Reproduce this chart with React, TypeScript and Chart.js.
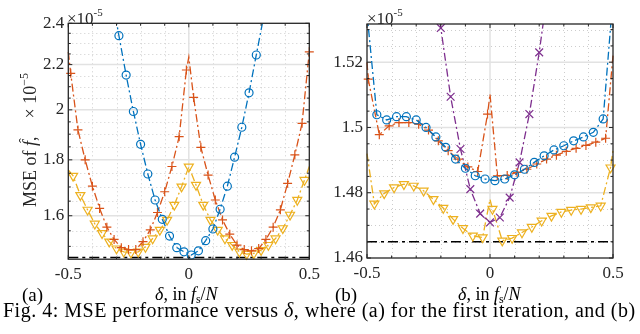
import React, { useEffect, useRef } from 'react';
import { Chart, registerables } from 'chart.js';

Chart.register(...registerables);

const FONT = "'Liberation Serif', 'Times New Roman', Times, serif";
const AX = '#262626';
const BLUE = '#0072BD';
const ORANGE = '#D95319';
const YELLOW = '#EDB120';
const PURPLE = '#7E2F8E';

// shared x axis
const xTicks = [-0.5, 0, 0.5];
const xTickLabels = ['-0.5', '0', '0.5'];
const xMinor = [-0.4, -0.3, -0.2, -0.1, 0.1, 0.2, 0.3, 0.4];
const crbLevel = 1.465;

// panel (a)
const aYMin = 1.46;
const aYMax = 2.4;
const aYTicks = [1.6, 1.8, 2.0, 2.2, 2.4];
const aYTickLabels = ['1.6', '1.8', '2', '2.2', '2.4'];
const aYMinor = [1.5, 1.55, 1.65, 1.7, 1.75, 1.85, 1.9, 1.95, 2.05, 2.1, 2.15, 2.25, 2.3, 2.35];

const aBlueX = [-0.35, -0.32, -0.29, -0.26, -0.23, -0.2, -0.17, -0.14, -0.11, -0.08, -0.05, -0.02, 0.01, 0.04, 0.07, 0.1, 0.13, 0.16, 0.19, 0.22, 0.25, 0.28, 0.31, 0.34];
const aBlueY = [2.78, 2.55, 2.338, 2.152, 1.993, 1.86, 1.747, 1.654, 1.588, 1.533, 1.496, 1.483, 1.473, 1.486, 1.518, 1.556, 1.622, 1.703, 1.81, 1.928, 2.073, 2.245, 2.43, 2.65];
const aBlueNoMark: number[] = [];

const aOrangeX = [-0.5, -0.49, -0.46, -0.43, -0.4, -0.37, -0.34, -0.31, -0.28, -0.25, -0.22, -0.19, -0.16, -0.13, -0.1, -0.07, -0.04, -0.01, 0, 0.02, 0.05, 0.08, 0.11, 0.14, 0.17, 0.2, 0.23, 0.26, 0.29, 0.32, 0.35, 0.38, 0.41, 0.44, 0.47, 0.5];
const aOrangeY = [2.26, 2.16, 1.917, 1.8, 1.703, 1.625, 1.562, 1.522, 1.496, 1.49, 1.49, 1.515, 1.553, 1.611, 1.683, 1.775, 1.89, 2.175, 2.235, 2.053, 1.848, 1.743, 1.654, 1.586, 1.539, 1.504, 1.49, 1.486, 1.493, 1.522, 1.562, 1.62, 1.713, 1.819, 1.944, 2.26];
const aOrangeNoMark = [-0.5, 0];

const aYellowX = [-0.5, -0.48, -0.45, -0.42, -0.39, -0.36, -0.33, -0.3, -0.27, -0.24, -0.21, -0.18, -0.15, -0.12, -0.09, -0.06, -0.03, 0, 0.03, 0.06, 0.09, 0.12, 0.15, 0.18, 0.21, 0.24, 0.27, 0.3, 0.33, 0.36, 0.39, 0.42, 0.45, 0.48, 0.5];
const aYellowY = [1.762, 1.74, 1.671, 1.62, 1.573, 1.542, 1.515, 1.493, 1.483, 1.48, 1.483, 1.498, 1.525, 1.553, 1.586, 1.637, 1.701, 1.774, 1.707, 1.637, 1.586, 1.553, 1.525, 1.504, 1.483, 1.476, 1.478, 1.488, 1.504, 1.525, 1.558, 1.603, 1.654, 1.725, 1.775];
const aYellowNoMark = [-0.5, 0.5];

// panel (b)
const bYMin = 1.46;
const bYMax = 1.5317;
const bYTicks = [1.46, 1.48, 1.5, 1.52];
const bYTickLabels = ['1.46', '1.48', '1.5', '1.52'];
const bYMinor = [1.465, 1.47, 1.475, 1.485, 1.49, 1.495, 1.505, 1.51, 1.515, 1.525, 1.53];

const bBlueX = [-0.5, -0.46, -0.42, -0.38, -0.34, -0.3, -0.26, -0.22, -0.18, -0.14, -0.1, -0.06, -0.02, 0.02, 0.06, 0.1, 0.14, 0.18, 0.22, 0.26, 0.3, 0.34, 0.38, 0.42, 0.46, 0.5];
const bBlueY = [1.535, 1.5039, 1.5023, 1.5033, 1.5033, 1.5023, 1.5, 1.4971, 1.4939, 1.4903, 1.4875, 1.4852, 1.4842, 1.4837, 1.4842, 1.4855, 1.4872, 1.4893, 1.4913, 1.4931, 1.4944, 1.4959, 1.4971, 1.4985, 1.5026, 1.54];
const bBlueNoMark = [-0.5, 0.5];

const bOrangeX = [-0.5, -0.495, -0.45, -0.41, -0.37, -0.33, -0.29, -0.25, -0.21, -0.17, -0.13, -0.09, -0.05, -0.01, 0, 0.03, 0.07, 0.11, 0.15, 0.19, 0.23, 0.27, 0.31, 0.35, 0.39, 0.43, 0.47, 0.5];
const bOrangeY = [1.52, 1.5148, 1.4978, 1.5005, 1.5015, 1.5015, 1.501, 1.4992, 1.4959, 1.4929, 1.4903, 1.4879, 1.4865, 1.5041, 1.5102, 1.4852, 1.4853, 1.4862, 1.4872, 1.4888, 1.4903, 1.4915, 1.4927, 1.4936, 1.4945, 1.4955, 1.4967, 1.522];
const bOrangeNoMark = [-0.5, 0, 0.5];

const bPurpleX = [-0.24, -0.2, -0.16, -0.12, -0.08, -0.04, 0, 0.04, 0.08, 0.12, 0.16, 0.2, 0.24];
const bPurpleY = [1.552, 1.5305, 1.5094, 1.4934, 1.4811, 1.4736, 1.4709, 1.4724, 1.4785, 1.4893, 1.5041, 1.523, 1.545];
const bPurpleNoMark: number[] = [];

const bYellowX = [-0.5, -0.47, -0.43, -0.39, -0.35, -0.31, -0.27, -0.23, -0.19, -0.15, -0.11, -0.07, -0.03, 0, 0.01, 0.05, 0.09, 0.13, 0.17, 0.21, 0.25, 0.29, 0.33, 0.37, 0.41, 0.45, 0.49, 0.5];
const bYellowY = [1.492, 1.4766, 1.4798, 1.4816, 1.4826, 1.4821, 1.4806, 1.478, 1.4753, 1.4719, 1.4691, 1.4668, 1.4663, 1.478, 1.475, 1.4653, 1.4661, 1.4678, 1.4695, 1.4714, 1.4729, 1.4741, 1.4747, 1.475, 1.4755, 1.476, 1.4877, 1.493];
const bYellowNoMark = [-0.5, 0, 0.5];

const DASHDOT = [8, 3, 2, 3];

function series(xs: number[], ys: number[], noMark: number[], color: string, style: string, radius: number, rotation = 0) {
  return {
    data: xs.map((x, i) => ({ x, y: ys[i] })),
    borderColor: color,
    borderWidth: 1.3,
    borderDash: DASHDOT,
    pointStyle: style,
    pointRadius: xs.map((x) => (noMark.includes(x) ? 0 : radius)),
    pointHoverRadius: 0,
    pointRotation: rotation,
    pointBorderColor: color,
    pointBackgroundColor: 'rgba(0,0,0,0)',
    pointBorderWidth: 1.2,
    fill: false,
    tension: 0,
    clip: { left: 8, right: 8, top: 0, bottom: 8 },
  };
}

function crb() {
  return {
    data: [{ x: -0.5, y: crbLevel }, { x: 0.5, y: crbLevel }],
    borderColor: '#000000',
    borderWidth: 1.5,
    borderDash: [10, 4, 3, 4],
    pointRadius: 0,
    pointHoverRadius: 0,
    fill: false,
    clip: { left: 0, right: 0, top: 0, bottom: 4 },
  };
}

function seg(ctx: CanvasRenderingContext2D, x1: number, y1: number, x2: number, y2: number) {
  ctx.beginPath();
  ctx.moveTo(x1, y1);
  ctx.lineTo(x2, y2);
  ctx.stroke();
}

function axesPlugin(cfg: { yTicks: number[]; yMinor: number[]; yGrid: number[] }) {
  return {
    id: 'matlabAxes',
    beforeDatasetsDraw(chart: any) {
      const { ctx, chartArea: a } = chart;
      const sx = chart.scales.x;
      const sy = chart.scales.y;
      ctx.save();
      ctx.lineWidth = 1;
      ctx.strokeStyle = '#cdcdcd';
      ctx.setLineDash([1, 3]);
      for (const v of xMinor) {
        const p = Math.round(sx.getPixelForValue(v)) + 0.5;
        seg(ctx, p, a.top, p, a.bottom);
      }
      for (const v of cfg.yMinor) {
        const p = Math.round(sy.getPixelForValue(v)) + 0.5;
        seg(ctx, a.left, p, a.right, p);
      }
      ctx.setLineDash([]);
      ctx.strokeStyle = '#e2e2e2';
      ctx.lineWidth = 1.5;
      const p0 = sx.getPixelForValue(0);
      seg(ctx, p0, a.top, p0, a.bottom);
      for (const v of cfg.yGrid) {
        const p = sy.getPixelForValue(v);
        seg(ctx, a.left, p, a.right, p);
      }
      ctx.restore();
    },
    afterDatasetsDraw(chart: any) {
      const { ctx, chartArea: a } = chart;
      const sx = chart.scales.x;
      const sy = chart.scales.y;
      ctx.save();
      ctx.strokeStyle = AX;
      ctx.lineWidth = 1;
      const tick = (v: number, len: number, horiz: boolean) => {
        if (horiz) {
          const p = sx.getPixelForValue(v);
          seg(ctx, p, a.bottom, p, a.bottom - len);
          seg(ctx, p, a.top, p, a.top + len);
        } else {
          const p = sy.getPixelForValue(v);
          seg(ctx, a.left, p, a.left + len, p);
          seg(ctx, a.right, p, a.right - len, p);
        }
      };
      xTicks.forEach((v) => tick(v, 4, true));
      xMinor.forEach((v) => tick(v, 2.5, true));
      cfg.yTicks.forEach((v) => tick(v, 4, false));
      cfg.yMinor.forEach((v) => tick(v, 2.5, false));
      ctx.lineWidth = 1.3;
      ctx.strokeRect(a.left, a.top, a.right - a.left, a.bottom - a.top);
      ctx.restore();
    },
  };
}

function makeConfig(opts: {
  datasets: any[];
  yType: string;
  yMin: number;
  yMax: number;
  yTicks: number[];
  yTickLabels: string[];
  yMinor: number[];
  yGrid: number[];
  yAxisWidth: number;
  padding: { left: number; right: number; top: number; bottom: number };
}) {
  const tickFont = { family: FONT, size: 17 };
  return {
    type: 'line' as const,
    data: { datasets: opts.datasets },
    plugins: [axesPlugin({ yTicks: opts.yTicks, yMinor: opts.yMinor, yGrid: opts.yGrid })],
    options: {
      responsive: false,
      animation: false as const,
      devicePixelRatio: 1,
      events: [],
      layout: { padding: opts.padding },
      plugins: { legend: { display: false }, tooltip: { enabled: false } },
      scales: {
        x: {
          type: 'linear' as const,
          min: -0.5,
          max: 0.5,
          afterBuildTicks: (s: any) => {
            s.ticks = xTicks.map((v) => ({ value: v }));
          },
          afterFit: (s: any) => {
            s.height = 30;
          },
          grid: { display: false, drawTicks: false },
          border: { display: false },
          ticks: {
            callback: (_v: any, i: number) => xTickLabels[i],
            font: tickFont,
            color: AX,
            padding: 5,
            maxRotation: 0,
            autoSkip: false,
          },
        },
        y: {
          type: opts.yType,
          min: opts.yMin,
          max: opts.yMax,
          afterBuildTicks: (s: any) => {
            s.ticks = opts.yTicks.map((v) => ({ value: v }));
          },
          afterFit: (s: any) => {
            s.width = opts.yAxisWidth;
          },
          grid: { display: false, drawTicks: false },
          border: { display: false },
          ticks: {
            callback: (_v: any, i: number) => opts.yTickLabels[i],
            font: tickFont,
            color: AX,
            padding: 4,
            autoSkip: false,
          },
        },
      },
    },
  };
}

const Exp = ({ left }: { left: number }) => (
  <div style={{ position: 'absolute', left, top: 4, fontSize: 17, lineHeight: '17px', whiteSpace: 'nowrap', color: AX }}>
    ×10<span style={{ fontSize: 11, verticalAlign: 8 }}>-5</span>
  </div>
);

const XLabel = ({ left }: { left: number }) => (
  <div style={{ position: 'absolute', left, top: 285, fontSize: 18, lineHeight: '18px', whiteSpace: 'nowrap' }}>
    <i>δ</i>, in <i>f</i>
    <span style={{ fontSize: 12, verticalAlign: -3 }}>s</span>/<i>N</i>
  </div>
);

export default function App() {
  const refA = useRef<HTMLCanvasElement>(null);
  const refB = useRef<HTMLCanvasElement>(null);

  useEffect(() => {
    const chartA = new Chart(
      refA.current as HTMLCanvasElement,
      makeConfig({
        datasets: [
          series(aBlueX, aBlueY, aBlueNoMark, BLUE, 'circle', 4),
          series(aOrangeX, aOrangeY, aOrangeNoMark, ORANGE, 'cross', 4.5),
          series(aYellowX, aYellowY, aYellowNoMark, YELLOW, 'triangle', 5.2, 180),
          crb(),
        ],
        yType: 'logarithmic',
        yMin: aYMin,
        yMax: aYMax,
        yTicks: aYTicks,
        yTickLabels: aYTickLabels,
        yMinor: aYMinor,
        yGrid: [1.6, 1.8, 2.0, 2.2],
        yAxisWidth: 68.3,
        padding: { left: 0, right: 25.7, top: 23.3, bottom: 0.8 },
      }) as any
    );
    const chartB = new Chart(
      refB.current as HTMLCanvasElement,
      makeConfig({
        datasets: [
          series(bBlueX, bBlueY, bBlueNoMark, BLUE, 'circle', 4),
          series(bOrangeX, bOrangeY, bOrangeNoMark, ORANGE, 'cross', 4.5),
          series(bPurpleX, bPurpleY, bPurpleNoMark, PURPLE, 'crossRot', 5.5),
          series(bYellowX, bYellowY, bYellowNoMark, YELLOW, 'triangle', 5.2, 180),
          crb(),
        ],
        yType: 'linear',
        yMin: bYMin,
        yMax: bYMax,
        yTicks: bYTicks,
        yTickLabels: bYTickLabels,
        yMinor: bYMinor,
        yGrid: [1.48, 1.5, 1.52],
        yAxisWidth: 47,
        padding: { left: 0, right: 27, top: 24, bottom: 4 },
      }) as any
    );
    return () => {
      chartA.destroy();
      chartB.destroy();
    };
  }, []);

  return (
    <div
      style={{
        position: 'fixed',
        left: 0,
        top: 0,
        width: 640,
        height: 334,
        background: '#ffffff',
        fontFamily: FONT,
        color: '#000',
        overflow: 'hidden',
      }}
    >
      <canvas ref={refA} width={335} height={290} style={{ position: 'absolute', left: 0, top: 0 }} />
      <canvas ref={refB} width={320} height={292} style={{ position: 'absolute', left: 320, top: 0 }} />
      <Exp left={67} />
      <Exp left={367} />
      <div
        style={{
          position: 'absolute',
          left: 27,
          top: 140,
          transform: 'translate(-50%, -50%) rotate(-90deg)',
          fontSize: 18,
          lineHeight: '18px',
          whiteSpace: 'nowrap',
          color: AX,
        }}
      >
        MSE of{' '}
        <span style={{ position: 'relative', display: 'inline-block' }}>
          <i>f</i>
          <span style={{ position: 'absolute', left: 3, top: -6, fontSize: 15 }}>ˆ</span>
        </span>
        ,{'\u2003'}× 10<span style={{ fontSize: 12, verticalAlign: 8 }}>−5</span>
      </div>
      <div style={{ position: 'absolute', left: 22, top: 285, fontSize: 19, lineHeight: '19px' }}>(a)</div>
      <div style={{ position: 'absolute', left: 335, top: 285, fontSize: 19, lineHeight: '19px' }}>(b)</div>
      <XLabel left={155} />
      <XLabel left={458} />
      <div
        style={{
          position: 'absolute',
          left: 3,
          top: 300,
          fontSize: 20,
          lineHeight: '20px',
          letterSpacing: 0.5,
          whiteSpace: 'nowrap',
        }}
      >
        Fig. 4: MSE performance versus <i>δ</i>, where (a) for the first iteration, and (b)
      </div>
    </div>
  );
}
